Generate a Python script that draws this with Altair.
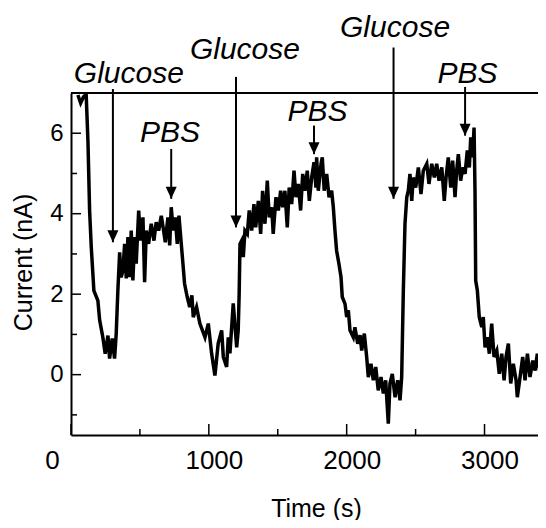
import altair as alt
import pandas as pd

# ---- data ----
time_s = [50, 70, 90, 110, 123, 135, 147, 166, 195, 208, 231, 248, 268, 280, 299, 316, 328, 340, 353, 364,
          377, 389, 401, 413, 425, 437, 449, 462, 473, 491, 505, 522, 534, 546, 563, 582, 602, 618, 636, 655,
          672, 684, 703, 716, 727, 742, 756, 771, 783, 800, 812, 824, 843, 861, 877, 887, 911, 935, 972, 996,
          1020, 1044, 1068, 1093, 1105, 1129, 1141, 1153, 1177, 1202, 1213, 1220, 1226, 1238, 1250, 1262, 1279, 1293, 1311, 1327,
          1340, 1359, 1376, 1390, 1407, 1424, 1438, 1456, 1467, 1487, 1504, 1521, 1536, 1552, 1569, 1583, 1601, 1618, 1632, 1649,
          1666, 1681, 1697, 1714, 1729, 1746, 1763, 1777, 1782, 1794, 1814, 1823, 1837, 1855, 1872, 1891, 1903, 1915, 1927, 1944,
          1959, 1968, 1988, 2000, 2012, 2024, 2048, 2060, 2080, 2097, 2109, 2128, 2145, 2157, 2176, 2193, 2211, 2229, 2249, 2266,
          2283, 2302, 2314, 2331, 2351, 2370, 2387, 2399, 2411, 2423, 2436, 2447, 2459, 2472, 2483, 2501, 2520, 2539, 2556, 2581,
          2597, 2617, 2636, 2653, 2670, 2690, 2708, 2721, 2737, 2755, 2769, 2786, 2798, 2810, 2827, 2842, 2859, 2875, 2890, 2900,
          2914, 2924, 2931, 2936, 2948, 2962, 2980, 2991, 3004, 3020, 3035, 3052, 3069, 3089, 3107, 3125, 3142, 3156, 3173, 3190,
          3209, 3229, 3238, 3258, 3277, 3294, 3311, 3330, 3350, 3367, 3383, 3403, 3422, 3439]
current_nA = [6.95, 6.75, 6.9, 6.97, 5.8, 4.08, 3.17, 2.09, 1.84, 1.35, 0.93, 0.52, 0.97, 0.4, 0.9, 0.4, 1.02, 2.09, 3.04, 2.42,
              2.59, 3.25, 2.39, 3.42, 2.42, 3.58, 2.34, 3.42, 2.76, 4.08, 3.33, 3.91, 2.3, 3.58, 3.25, 3.75, 3.33, 3.79, 3.58, 3.95,
              3.58, 3.29, 3.91, 3.21, 4.16, 3.58, 3.91, 3.25, 3.95, 3.25, 2.76, 2.26, 1.93, 1.68, 1.97, 1.43, 1.68, 1.27, 0.93, 1.27,
              0.53, -0.02, 0.78, 1.1, 0.44, 0.19, 0.93, 0.53, 1.77, 0.68, 1.1, 2.0, 3.25, 3.33, 2.92, 3.58, 3.5, 4.08, 3.58, 4.24,
              3.66, 4.32, 3.5, 4.57, 3.75, 4.82, 3.91, 4.16, 3.5, 4.41, 4.08, 4.57, 4.16, 4.57, 3.66, 4.65, 4.24, 5.07, 4.41, 4.74,
              4.08, 4.99, 4.57, 5.07, 4.32, 4.9, 5.28, 4.65, 5.4, 4.57, 5.24, 5.4, 4.57, 4.99, 4.41, 4.57, 4.16, 3.58, 3.08, 2.75,
              2.42, 1.93, 1.76, 1.43, 1.6, 1.1, 0.93, 1.18, 0.77, 0.98, 0.6, 1.02, 0.44, -0.06, 0.27, -0.14, 0.19, -0.39, -0.06, -0.47,
              -0.14, -1.22, -0.22, 0.02, -0.56, -0.14, -0.64, -0.06, 2.09, 3.75, 4.41, 4.57, 4.99, 4.32, 4.9, 4.65, 5.15, 4.49, 5.07, 5.24,
              4.74, 5.24, 4.9, 5.24, 4.82, 5.15, 4.32, 4.9, 5.4, 4.65, 5.32, 4.41, 5.07, 5.48, 4.82, 5.15, 4.99, 5.57, 5.15, 5.9,
              5.4, 6.14, 4.57, 2.34, 2.09, 1.43, 1.18, 1.43, 0.68, 0.93, 0.52, 1.27, 0.44, 0.6, 0.02, 0.52, -0.14, 0.44, 0.77, -0.22,
              0.27, -0.14, -0.56, -0.06, 0.44, -0.14, 0.52, -0.06, 0.35, 0.1, 0.52, 0.02, 0.44, 0.77]

x_ticks_major = [0, 1000, 2000, 3000]
x_ticks_minor = [500, 1500, 2500]
y_ticks_major = [0, 2, 4, 6]
y_ticks_minor = [-1, 1, 3, 5]

ann_labels = ["Glucose", "Glucose", "Glucose", "PBS", "PBS", "PBS"]
ann_time = [304, 1197, 2340, 727, 1763, 2859]
ann_arrow_top = [7.1, 7.4, 8.13, 5.61, 6.19, 7.15]
ann_arrow_tip = [3.29, 3.66, 4.37, 4.37, 5.48, 5.94]
ann_label_time = [420, 1262, 2351, 718, 1788, 2877]
ann_label_level = [7.26, 7.84, 8.38, 5.77, 6.31, 7.26]

# ---- layout ----
W, H = 467, 342
FONT = "Liberation Sans"
xs = alt.Scale(domain=[0, 3388], nice=False, zero=False)
ys = alt.Scale(domain=[-1.5, 7], nice=False, zero=False)

df = pd.DataFrame({"t": time_s, "c": current_nA})

x_axis = alt.Axis(
    values=x_ticks_major, ticks=False, grid=False, format="d",
    domainColor="black", domainWidth=2,
    labelFont=FONT, labelFontSize=26, labelColor="black", labelPadding=12,
    labelOffset={"condition": {"test": "datum.value == 0", "value": -19}, "value": 5},
    labelOverlap=False, labelFlush=False,
    title="Time (s)", titleFont=FONT, titleFontSize=25, titleFontWeight="normal",
    titleColor="black", titleX=245, titleY=81, titleBaseline="alphabetic", titleAlign="center",
)
y_axis = alt.Axis(
    values=y_ticks_major, ticks=False, grid=False,
    domainColor="black", domainWidth=2,
    labelFont=FONT, labelFontSize=24, labelColor="black", labelPadding=8,
    title="Current (nA)", titleFont=FONT, titleFontSize=25, titleFontWeight="normal",
    titleColor="black", titleX=-48, titleY=169, titleBaseline="middle", titleAlign="center", titleAngle=270,
)

line = alt.Chart(df).mark_line(color="black", strokeWidth=3.5, clip=True).encode(
    x=alt.X("t:Q", scale=xs, axis=x_axis),
    y=alt.Y("c:Q", scale=ys, axis=y_axis),
)

top_line = alt.Chart(df).mark_rule(color="black", strokeWidth=2).encode(
    x=alt.value(0), x2=alt.value(W), y=alt.value(0)
)

def xticks(vals, length):
    return alt.Chart(pd.DataFrame({"t": vals})).mark_rule(color="black", strokeWidth=1.5).encode(
        x=alt.X("t:Q", scale=xs, axis=x_axis), y=alt.value(H), y2=alt.value(H - length)
    )

def yticks(vals, length):
    return alt.Chart(pd.DataFrame({"c": vals})).mark_rule(color="black", strokeWidth=1.5).encode(
        y=alt.Y("c:Q", scale=ys, axis=y_axis), x=alt.value(0), x2=alt.value(length)
    )

ann = pd.DataFrame({
    "label": ann_labels, "t": ann_time, "top": ann_arrow_top, "tip": ann_arrow_tip,
    "lt": ann_label_time, "ll": ann_label_level,
})

arrows = alt.Chart(ann).mark_rule(color="black", strokeWidth=2).encode(
    x=alt.X("t:Q", scale=xs, axis=x_axis),
    y=alt.Y("top:Q", scale=ys, axis=y_axis),
    y2="tip:Q",
)
heads = alt.Chart(ann).mark_point(
    shape="M-0.92,-2L0.92,-2L0,0Z", filled=True, color="black", size=144, opacity=1
).encode(
    x=alt.X("t:Q", scale=xs, axis=x_axis),
    y=alt.Y("tip:Q", scale=ys, axis=y_axis),
)
texts = alt.Chart(ann).mark_text(
    font=FONT, fontSize=30, fontStyle="italic", color="black", align="center", baseline="alphabetic"
).encode(
    x=alt.X("lt:Q", scale=xs, axis=x_axis),
    y=alt.Y("ll:Q", scale=ys, axis=y_axis),
    text="label:N",
)

chart = alt.layer(
    line, top_line,
    xticks(x_ticks_major, 11), xticks(x_ticks_minor, 6),
    yticks(y_ticks_major, 10), yticks(y_ticks_minor, 6),
    arrows, heads, texts,
).properties(
    width=W, height=H,
    autosize=alt.AutoSizeParams(type="none"),
    padding={"left": 63, "top": 85, "right": 0, "bottom": 85},
    background="white",
).configure_view(strokeWidth=0)

chart.save("out.html", embed_options={"renderer": "svg", "actions": False})
